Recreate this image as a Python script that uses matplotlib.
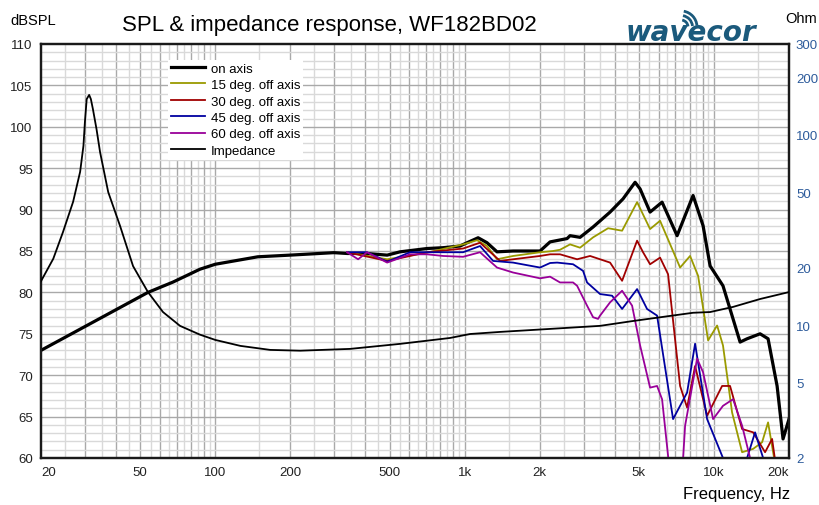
"""SPL & impedance response chart, WF182BD02."""

import matplotlib
matplotlib.use("Agg")  # headless
import matplotlib.pyplot as plt
import matplotlib.ticker as mticker
from matplotlib.patches import Arc
from matplotlib.transforms import IdentityTransform

plt.rcParams["font.family"] = ["Liberation Sans", "DejaVu Sans"]

# on-axis SPL (dB)
f_on = [20, 53.7, 67.7, 86.8, 100, 148, 199, 299, 338, 406, 489, 551, 707, 820, 959,
        1023, 1133, 1230, 1349, 1565, 2007, 2202, 2576, 2648, 2904, 3276, 3832, 4320,
        4828, 5056, 5544, 6194, 7116, 8248, 9046, 9652, 10870, 12732, 13582, 15312,
        16486, 17918, 18928, 20000]
spl_on = [73.0, 80.0, 81.25, 82.8, 83.4, 84.3, 84.5, 84.8, 84.7, 84.7, 84.5, 84.9, 85.3,
          85.4, 85.6, 86.0, 86.6, 86.0, 84.9, 85.0, 85.0, 86.1, 86.5, 86.85, 86.65, 87.9,
          89.7, 91.3, 93.3, 92.5, 89.7, 90.9, 86.85, 91.7, 88.05, 83.2, 80.8, 74.0, 74.4,
          75.0, 74.4, 68.7, 62.3, 64.7]

# 15 deg off axis
f_15 = [338, 489, 707, 986, 1122, 1230, 1349, 1565, 2007, 2264, 2414, 2648, 2904, 3276,
        3762, 4282, 4918, 5544, 6080, 7316, 8022, 8640, 9475, 10296, 10870, 11824, 12970,
        14356, 15600, 16486, 17270, 17918]
spl_15 = [84.85, 84.0, 84.8, 85.8, 86.3, 85.6, 84.0, 84.4, 84.85, 85.0, 85.15, 85.8, 85.4,
          86.65, 87.75, 87.45, 90.9, 87.65, 88.65, 83.0, 84.4, 82.0, 74.2, 76.0, 73.6,
          65.5, 60.7, 61.1, 61.9, 64.3, 60.7, 58.0]

# 30 deg off axis
f_30 = [338, 489, 707, 986, 1153, 1387, 1565, 2007, 2202, 2414, 2826, 3186, 3832, 4282,
        4918, 5196, 5544, 6080, 6546, 7316, 7804, 8402, 9388, 10782, 11604, 12970, 14356,
        16034, 17110, 17918, 20000]
spl_30 = [84.85, 83.8, 84.85, 85.3, 86.0, 83.8, 84.0, 84.4, 84.6, 84.6, 84.0, 84.4, 83.6,
          81.4, 86.25, 84.85, 83.4, 84.2, 82.2, 68.7, 66.1, 71.1, 65.1, 68.7, 68.7, 63.5,
          63.1, 60.7, 62.3, 58.0, 58.0]

# 45 deg off axis
f_45 = [338, 406, 489, 604, 707, 986, 1153, 1301, 1565, 2007, 2202, 2350, 2722, 2986,
        3098, 3494, 3904, 4282, 4918, 5392, 5914, 6856, 7804, 8402, 9388, 10870, 13582,
        14620, 15750, 20000]
spl_45 = [84.85, 84.85, 83.7, 84.85, 84.85, 84.85, 85.6, 83.8, 83.6, 83.0, 83.55, 83.6,
          83.4, 82.6, 81.2, 79.8, 79.6, 78.0, 80.4, 78.0, 77.2, 64.7, 67.9, 73.8, 64.7,
          60.0, 60.0, 63.1, 60.0, 60.0]

# 60 deg off axis
f_60 = [338, 374, 406, 489, 604, 707, 820, 986, 1153, 1349, 1565, 2007, 2202, 2414, 2722,
        2826, 3098, 3276, 3430, 3494, 3832, 4282, 4696, 5056, 5544, 5914, 6194, 6668,
        7452, 7662, 8560, 9046, 9922, 10870, 11930, 12970, 13964, 20000]
spl_60 = [84.85, 84.0, 84.85, 83.6, 84.6, 84.6, 84.4, 84.3, 84.85, 83.0, 82.4, 81.7, 81.9,
          81.2, 81.2, 80.8, 78.4, 77.0, 76.8, 77.2, 78.8, 80.2, 78.4, 73.6, 68.5, 68.7,
          67.1, 58.0, 58.0, 63.9, 72.0, 70.35, 64.7, 66.3, 67.1, 63.9, 60.0, 60.0]

# impedance (Ohm)
f_imp = [20, 22.4, 24.5, 26.9, 28.7, 29.6, 30.0, 30.5, 31.2, 31.7, 32.3, 33.4, 34.5, 37.2,
         41.5, 46.8, 53.7, 61.7, 72.2, 86.8, 100, 126, 166, 219, 347, 551, 874, 1052,
         1387, 2202, 3494, 4740, 8248, 9652, 11930, 15312, 20000]
z_imp = [17.0, 22.3, 30.8, 44.4, 63.8, 87.6, 116.7, 154, 162, 154, 136.5, 107, 81.2, 50.0,
         33.2, 20.4, 14.9, 11.7, 9.9, 8.9, 8.35, 7.77, 7.40, 7.33, 7.49, 7.96, 8.55, 8.97,
         9.2, 9.54, 9.9, 10.5, 11.6, 11.7, 12.45, 13.7, 14.9]

x_ticks = [20, 50, 100, 200, 500, 1000, 2000, 5000, 10000, 20000]
x_labels = ["20", "50", "100", "200", "500", "1k", "2k", "5k", "10k", "20k"]
z_ticks = [2, 5, 10, 20, 50, 100, 200, 300]

_MAJ = "#a9a9a9"
_MIN = "#d9d9d9"
_BLUE_TXT = "#2d5b9b"
_LOGO = "#1b5a7c"

fig = plt.figure(figsize=(8.19, 5.06), dpi=100, facecolor="white")
ax = fig.add_axes([41 / 819, 1 - 459 / 506, 748 / 819, 414 / 506])
ax.set_xscale("log")
ax.set_xlim(20, 20000)
ax.set_ylim(60, 110)

# grid: integer multiples darker, half multiples lighter
for dec in [10, 100, 1000, 10000]:
    for k in range(2, 20):
        f = dec * k / 2
        if 20 < f < 20000:
            ax.axvline(f, color=_MAJ if k % 2 == 0 else _MIN, lw=1, zorder=0)
for v in range(61, 110):
    ax.axhline(v, color=_MAJ if v % 5 == 0 else _MIN, lw=1, zorder=0)

l_on, = ax.plot(f_on, spl_on, color="black", lw=2.3, label="on axis", zorder=3)
l15, = ax.plot(f_15, spl_15, color="#9a9a00", lw=1.3, label="15 deg. off axis", zorder=3)
l30, = ax.plot(f_30, spl_30, color="#a00000", lw=1.3, label="30 deg. off axis", zorder=3)
l45, = ax.plot(f_45, spl_45, color="#0000a0", lw=1.3, label="45 deg. off axis", zorder=3)
l60, = ax.plot(f_60, spl_60, color="#990099", lw=1.3, label="60 deg. off axis", zorder=3)

ax.set_xticks(x_ticks)
ax.set_xticklabels(x_labels)
ax.xaxis.set_minor_locator(mticker.NullLocator())
ax.set_yticks(range(60, 111, 5))
ax.tick_params(axis="both", length=0, labelsize=9.5, colors="#222222")
ax.tick_params(axis="x", pad=6)
ax.tick_params(axis="y", pad=6)
xl = ax.get_xticklabels()
xl[0].set_ha("left")
xl[-1].set_ha("right")

ax2 = ax.twinx()
ax2.set_yscale("log")
ax2.set_ylim(2, 300)
l_imp, = ax2.plot(f_imp, z_imp, color="black", lw=1.3, label="Impedance", zorder=3)
ax2.set_yticks(z_ticks)
ax2.set_yticklabels([str(t) for t in z_ticks])
ax2.yaxis.set_minor_locator(mticker.NullLocator())
ax2.tick_params(axis="y", length=0, labelsize=9.5, colors=_BLUE_TXT, pad=5)

for a in (ax, ax2):
    for s in a.spines.values():
        s.set_color("#1a1a1a")
        s.set_linewidth(1.6)

leg = ax2.legend(handles=[l_on, l15, l30, l45, l60, l_imp],
                 loc="upper left", bbox_to_anchor=(0.1698, 0.962),
                 borderaxespad=0, borderpad=0.2, handlelength=2.6,
                 handletextpad=0.45, labelspacing=0.32, fontsize=9.5,
                 frameon=True, fancybox=False, framealpha=1,
                 facecolor="white", edgecolor="none")
leg.set_zorder(10)

# texts
fig.text(10 / 819, 1 - 25 / 506, "dBSPL", fontsize=10.5, ha="left", va="baseline")
fig.text(329 / 819, 1 - 31 / 506, "SPL & impedance response, WF182BD02",
         fontsize=16, ha="center", va="baseline")
fig.text(817 / 819, 1 - 23 / 506, "Ohm", fontsize=10.5, ha="right", va="baseline")
fig.text(790 / 819, 1 - 495 / 506, "Frequency, Hz", fontsize=12, ha="right", va="center")

# logo
fig.text(626 / 819, 1 - 41 / 506, "wavecor", fontsize=20, color=_LOGO,
         family="DejaVu Sans", style="italic", weight="bold", ha="left", va="baseline")
for r in (7, 11.5, 16):
    fig.add_artist(Arc((681, 506 - 28), 2 * r, 2 * r, theta1=5, theta2=80,
                       color=_LOGO, lw=2, transform=IdentityTransform()))

fig.savefig("out.png", dpi=100, facecolor="white")
plt.close(fig)
